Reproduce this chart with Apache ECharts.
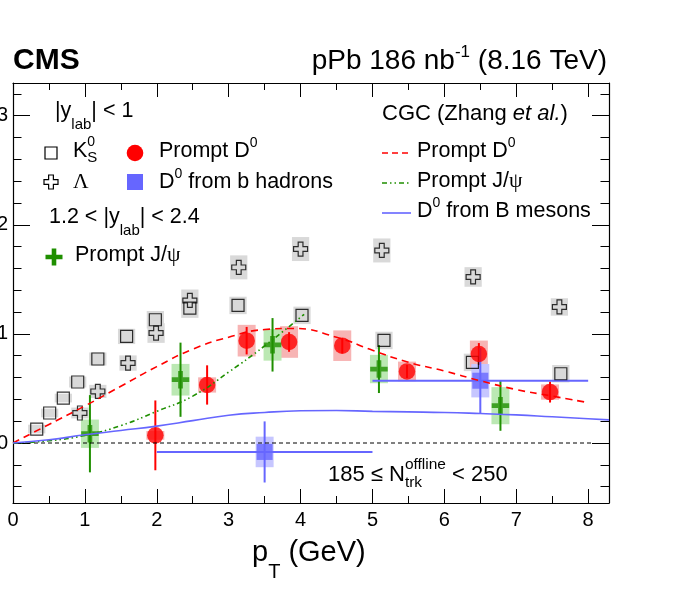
<!DOCTYPE html>
<html>
<head>
<meta charset="utf-8">
<script src="https://cdn.jsdelivr.net/npm/echarts@6/dist/echarts.min.js"></script>
<style>
  html, body { margin: 0; padding: 0; background: #fff; }
  #chart { width: 684px; height: 594px; }
</style>
</head>
<body>
<div id="chart"></div>
<script>
/* globals echarts */

// Each point: [pT, v2, stat error, syst error]
const k0s = [
  [0.33, 0.0128, 0, 0.004], [0.51, 0.0275, 0, 0.004], [0.70, 0.0412, 0, 0.004],
  [0.90, 0.0559, 0, 0.005], [1.18, 0.0770, 0, 0.006], [1.58, 0.0977, 0, 0.007],
  [1.98, 0.1130, 0, 0.008], [2.46, 0.1237, 0, 0.009], [3.13, 0.1261, 0, 0.008],
  [4.02, 0.1170, 0, 0.008], [5.16, 0.0940, 0, 0.008], [6.39, 0.0739, 0, 0.008],
  [7.62, 0.0635, 0, 0.008]
];
const lambda = [
  [0.93, 0.0275, 0, 0.005], [1.18, 0.0473, 0, 0.006], [1.60, 0.0733, 0, 0.007],
  [1.99, 0.1008, 0, 0.009], [2.46, 0.1307, 0, 0.010], [3.14, 0.1610, 0, 0.011],
  [4.00, 0.1778, 0, 0.011], [5.13, 0.1765, 0, 0.011], [6.40, 0.1522, 0, 0.009],
  [7.60, 0.1247, 0, 0.008]
];
const promptD0 = [
  [1.98, 0.0070, 0.032, 0.004], [2.70, 0.0532, 0.018, 0.007], [3.25, 0.0938, 0.0126, 0.0145],
  [3.84, 0.0926, 0.009, 0.0145], [4.58, 0.0892, 0.007, 0.014], [5.48, 0.0656, 0.006, 0.009],
  [6.48, 0.0816, 0.010, 0.0123], [7.47, 0.0467, 0.0096, 0.007]
];
const promptJpsi = [
  [1.07, 0.0085, 0.0354, 0.013], [2.33, 0.0580, 0.034, 0.0145], [3.61, 0.0900, 0.0245, 0.0145],
  [5.09, 0.0678, 0.022, 0.013], [6.78, 0.0342, 0.023, 0.017]
];
// [pT, v2, stat, syst, bin low, bin high]
const bD0 = [
  [3.5, -0.0082, 0.028, 0.014, 2, 5],
  [6.5, 0.0571, 0.030, 0.0153, 5, 8]
];

// CGC (Zhang et al.) curves
const cgcD0 = [
  [0, 0], [0.5, 0.017], [1, 0.034], [1.5, 0.052], [2, 0.070], [2.5, 0.086], [3, 0.097],
  [3.5, 0.104], [3.9, 0.105], [4.5, 0.097], [5, 0.085], [5.5, 0.074], [6, 0.066],
  [6.5, 0.057], [7, 0.049], [7.5, 0.043], [8, 0.037]
];
const cgcJpsi = [
  [0, 0], [0.5, 0.002], [1, 0.007], [1.5, 0.016], [2, 0.029], [2.5, 0.043],
  [3, 0.065], [3.5, 0.089], [4.05, 0.118]
];
const cgcB = [
  [0, 0], [0.5, 0.003], [1, 0.0075], [1.5, 0.0115], [2, 0.0155], [2.5, 0.0205],
  [3, 0.0255], [3.5, 0.028], [4, 0.0295], [4.5, 0.0298], [5, 0.029], [5.5, 0.0285],
  [6, 0.028], [6.5, 0.027], [7, 0.0258], [7.5, 0.024], [8, 0.0222], [8.29, 0.0212]
];
const zeroLine = [[0, 0], [8.08, 0]];

// Axis ticks
const xMajor = [0, 1, 2, 3, 4, 5, 6, 7, 8];
const xMinor = [0.5, 1.5, 2.5, 3.5, 4.5, 5.5, 6.5, 7.5];
const yMajor = [0, 0.1, 0.2, 0.3];
const yMinor = [-0.04, -0.02, 0.02, 0.04, 0.06, 0.08, 0.12, 0.14, 0.16, 0.18,
  0.22, 0.24, 0.26, 0.28, 0.32];

const SANS = '"Liberation Sans", Arial, Helvetica, sans-serif';
const SERIF = '"Liberation Serif", "Times New Roman", serif';
const RED = '#ff0000';
const GREEN = '#1f8f00';
const BLUE = '#6666ff';
const X_RANGE = [0, 8.29];
const Y_RANGE = [-0.055, 0.33];

const measure = document.createElement('canvas').getContext('2d');

function fontOf(p) {
  return (p.it ? 'italic ' : '') + (p.b ? 'bold ' : '') + p.s + 'px ' + (p.serif ? SERIF : SANS);
}

/**
 * Lay out a run of text pieces (with sub/superscripts) from a baseline.
 */
function textRun(x, y, parts, align) {
  const pos = [];
  let cx = 0;
  let stackW = 0;
  parts.forEach(function (p) {
    measure.font = fontOf(p);
    p.w = measure.measureText(p.t).width;
    pos.push(cx);
    if (p.stack) {
      stackW = p.w;
    }
    else {
      cx += Math.max(p.w, stackW);
      stackW = 0;
    }
  });
  const shift = align === 'right' ? -cx : 0;
  return parts.map(function (p, i) {
    return {
      type: 'text', z: 100, silent: true,
      x: x + shift + pos[i],
      y: y + (p.dy || 0) - 0.31 * p.s,
      style: {text: p.t, font: fontOf(p), fill: '#000', align: 'left', verticalAlign: 'middle'}
    };
  });
}

function crossPoints(cx, cy, size, t) {
  const h = size / 2, a = size * t / 2;
  return [[cx - a, cy - h], [cx + a, cy - h], [cx + a, cy - a], [cx + h, cy - a], [cx + h, cy + a],
    [cx + a, cy + a], [cx + a, cy + h], [cx - a, cy + h], [cx - a, cy + a], [cx - h, cy + a],
    [cx - h, cy - a], [cx - a, cy - a]];
}

function boxRender(hw, color) {
  return function (params, api) {
    const x = api.value(0), y = api.value(1), s = api.value(3);
    const p1 = api.coord([x - hw, y + s]);
    const p2 = api.coord([x + hw, y - s]);
    return {
      type: 'rect',
      shape: {x: p1[0], y: p1[1], width: p2[0] - p1[0], height: p2[1] - p1[1]},
      style: {fill: color}
    };
  };
}

function errRender(color) {
  return function (params, api) {
    const x = api.value(0), y = api.value(1), e = api.value(2);
    const top = api.coord([x, y + e]), bot = api.coord([x, y - e]);
    const children = [{
      type: 'line',
      shape: {x1: top[0], y1: top[1], x2: bot[0], y2: bot[1]},
      style: {stroke: color, lineWidth: 2}
    }];
    if (api.value(4) !== undefined && !isNaN(api.value(4))) {
      const l = api.coord([api.value(4), y]), r = api.coord([api.value(5), y]);
      children.push({
        type: 'line',
        shape: {x1: l[0], y1: l[1], x2: r[0], y2: r[1]},
        style: {stroke: color, lineWidth: 2}
      });
    }
    return {type: 'group', children: children};
  };
}

function customSeries(data, render, dims) {
  return {
    type: 'custom', data: data, renderItem: render, clip: true, silent: true,
    encode: {x: 0, y: 1},
    dimensions: dims || ['x', 'y', 'e', 's']
  };
}

function axisCfg(kind, pos, ticks, len, labels) {
  const cfg = {
    type: 'value', position: pos,
    min: kind === 'x' ? X_RANGE[0] : Y_RANGE[0],
    max: kind === 'x' ? X_RANGE[1] : Y_RANGE[1],
    splitLine: {show: false},
    axisLine: {show: len > 10, onZero: false, lineStyle: {color: '#000', width: 1.2}},
    axisTick: {show: true, inside: true, length: len, customValues: ticks,
      lineStyle: {color: '#000', width: 1}},
    axisLabel: {show: false}
  };
  if (labels) {
    cfg.axisLabel = {
      show: true, customValues: ticks, color: '#000', fontFamily: SANS, fontSize: 20,
      margin: kind === 'x' ? 7 : 5,
      formatter: function (v) {
        return Math.abs(v) < 1e-9 ? '0' : (kind === 'x' ? String(v) : v.toFixed(1));
      }
    };
  }
  return cfg;
}

const OPEN_CROSS = 'path://M3.3,0L6.7,0L6.7,3.3L10,3.3L10,6.7L6.7,6.7L6.7,10L3.3,10L3.3,6.7L0,6.7L0,3.3L3.3,3.3Z';
const FULL_CROSS = 'path://M3.65,0L6.35,0L6.35,3.65L10,3.65L10,6.35L6.35,6.35L6.35,10L3.65,10L3.65,6.35L0,6.35L0,3.65L3.65,3.65Z';

// Legend and labels
let graphics = [];
graphics = graphics.concat(
  textRun(13, 70, [{t: 'CMS', s: 30, b: true}]),
  textRun(607, 70, [{t: 'pPb 186 nb', s: 28}, {t: '-1', s: 17, dy: -12}, {t: ' (8.16 TeV)', s: 28}], 'right'),
  textRun(55, 118, [{t: '|y', s: 21.5}, {t: 'lab', s: 15, dy: 12}, {t: '| < 1', s: 21.5}]),
  textRun(73, 158, [{t: 'K', s: 21.5}, {t: '0', s: 14, dy: -12, stack: true}, {t: 'S', s: 15, dy: 5}]),
  textRun(159, 158, [{t: 'Prompt D', s: 21.5}, {t: '0', s: 14, dy: -11}]),
  textRun(73, 189, [{t: 'Λ', s: 21.5, serif: true}]),
  textRun(159, 189, [{t: 'D', s: 21.5}, {t: '0', s: 14, dy: -11}, {t: ' from b hadrons', s: 21.5}]),
  textRun(49, 224, [{t: '1.2 < |y', s: 21.5}, {t: 'lab', s: 15, dy: 12}, {t: '| < 2.4', s: 21.5}]),
  textRun(75, 262, [{t: 'Prompt J/', s: 21.5}, {t: 'ψ', s: 21.5, serif: true}]),
  textRun(382, 121, [{t: 'CGC (Zhang ', s: 22}, {t: 'et al.', s: 22, it: true}, {t: ')', s: 22}]),
  textRun(417, 158, [{t: 'Prompt D', s: 21.5}, {t: '0', s: 14, dy: -11}]),
  textRun(417, 188, [{t: 'Prompt J/', s: 21.5}, {t: 'ψ', s: 21.5, serif: true}]),
  textRun(417, 218, [{t: 'D', s: 21.5}, {t: '0', s: 14, dy: -11}, {t: ' from B mesons', s: 21.5}]),
  textRun(328, 482, [{t: '185 ≤ N', s: 22}, {t: 'offline', s: 15.5, dy: -12, stack: true},
    {t: 'trk', s: 15.5, dy: 6}, {t: ' < 250', s: 22}]),
  textRun(252, 562, [{t: 'p', s: 29}, {t: 'T', s: 20, dy: 17}, {t: ' (GeV)', s: 29}])
);
graphics.push(
  {type: 'rect', z: 100, silent: true, shape: {x: 45, y: 147, width: 12, height: 12},
    style: {fill: 'none', stroke: '#000', lineWidth: 1.2}},
  {type: 'circle', z: 100, silent: true, shape: {cx: 135, cy: 153, r: 8.3}, style: {fill: RED}},
  {type: 'polygon', z: 100, silent: true, shape: {points: crossPoints(51, 182, 14, 0.34)},
    style: {fill: 'none', stroke: '#000', lineWidth: 1.2}},
  {type: 'rect', z: 100, silent: true, shape: {x: 127, y: 174, width: 16, height: 16}, style: {fill: BLUE}},
  {type: 'polygon', z: 100, silent: true, shape: {points: crossPoints(54, 257, 17, 0.27)}, style: {fill: GREEN}},
  {type: 'line', z: 100, silent: true, shape: {x1: 382, y1: 153, x2: 411, y2: 153},
    style: {stroke: RED, lineWidth: 1.6, lineDash: [6, 4]}},
  {type: 'line', z: 100, silent: true, shape: {x1: 382, y1: 183, x2: 411, y2: 183},
    style: {stroke: GREEN, lineWidth: 1.6, lineDash: [5, 3, 1.5, 3, 1.5, 3]}},
  {type: 'line', z: 100, silent: true, shape: {x1: 382, y1: 213, x2: 411, y2: 213},
    style: {stroke: BLUE, lineWidth: 1.6}}
);

function curve(data, color, type) {
  return {
    type: 'line', data: data, symbol: 'none', smooth: 0.5, silent: true,
    lineStyle: {color: color, width: 1.6, type: type || 'solid'}
  };
}

function markers(data, symbol, size, style) {
  return {type: 'scatter', data: data, symbol: symbol, symbolSize: size, silent: true,
    encode: {x: 0, y: 1}, itemStyle: style};
}

const chart = echarts.init(document.getElementById('chart'), null, {renderer: 'canvas'});
chart.setOption({
  animation: false,
  backgroundColor: '#fff',
  grid: {left: 13, top: 83, width: 596, height: 420, containLabel: false, outerBoundsMode: 'none'},
  xAxis: [
    axisCfg('x', 'bottom', xMajor, 14, true),
    axisCfg('x', 'bottom', xMinor, 7, false),
    axisCfg('x', 'top', xMajor, 14, false),
    axisCfg('x', 'top', xMinor, 7, false)
  ],
  yAxis: [
    axisCfg('y', 'left', yMajor, 17, true),
    axisCfg('y', 'left', yMinor, 8.5, false),
    axisCfg('y', 'right', yMajor, 17, false),
    axisCfg('y', 'right', yMinor, 8.5, false)
  ],
  graphic: graphics,
  series: [
    customSeries(k0s, boxRender(0.12, '#d9d9d9')),
    customSeries(lambda, boxRender(0.12, '#d9d9d9')),
    customSeries(promptD0, boxRender(0.125, '#f7b4b4')),
    customSeries(promptJpsi, boxRender(0.125, '#bbe8b3')),
    customSeries(bD0, boxRender(0.125, '#c6c6ff')),
    {type: 'line', data: zeroLine, symbol: 'none', silent: true,
      lineStyle: {color: '#000', width: 1, type: [4, 3]}},
    curve(cgcD0, RED, [7, 5]),
    curve(cgcJpsi, GREEN, [5, 3, 1.5, 3, 1.5, 3]),
    curve(cgcB, BLUE),
    customSeries(promptD0, errRender(RED)),
    customSeries(promptJpsi, errRender(GREEN)),
    customSeries(bD0, errRender(BLUE), ['x', 'y', 'e', 's', 'lo', 'hi']),
    markers(k0s, 'rect', 12, {color: 'rgba(0,0,0,0)', borderColor: '#000', borderWidth: 1.2}),
    markers(lambda, OPEN_CROSS, 14, {color: 'rgba(0,0,0,0)', borderColor: '#000', borderWidth: 1.2}),
    markers(promptD0, 'circle', 16.5, {color: RED}),
    markers(promptJpsi, FULL_CROSS, 17.5, {color: GREEN}),
    markers(bD0, 'rect', 16, {color: BLUE})
  ]
});
</script>
</body>
</html>
